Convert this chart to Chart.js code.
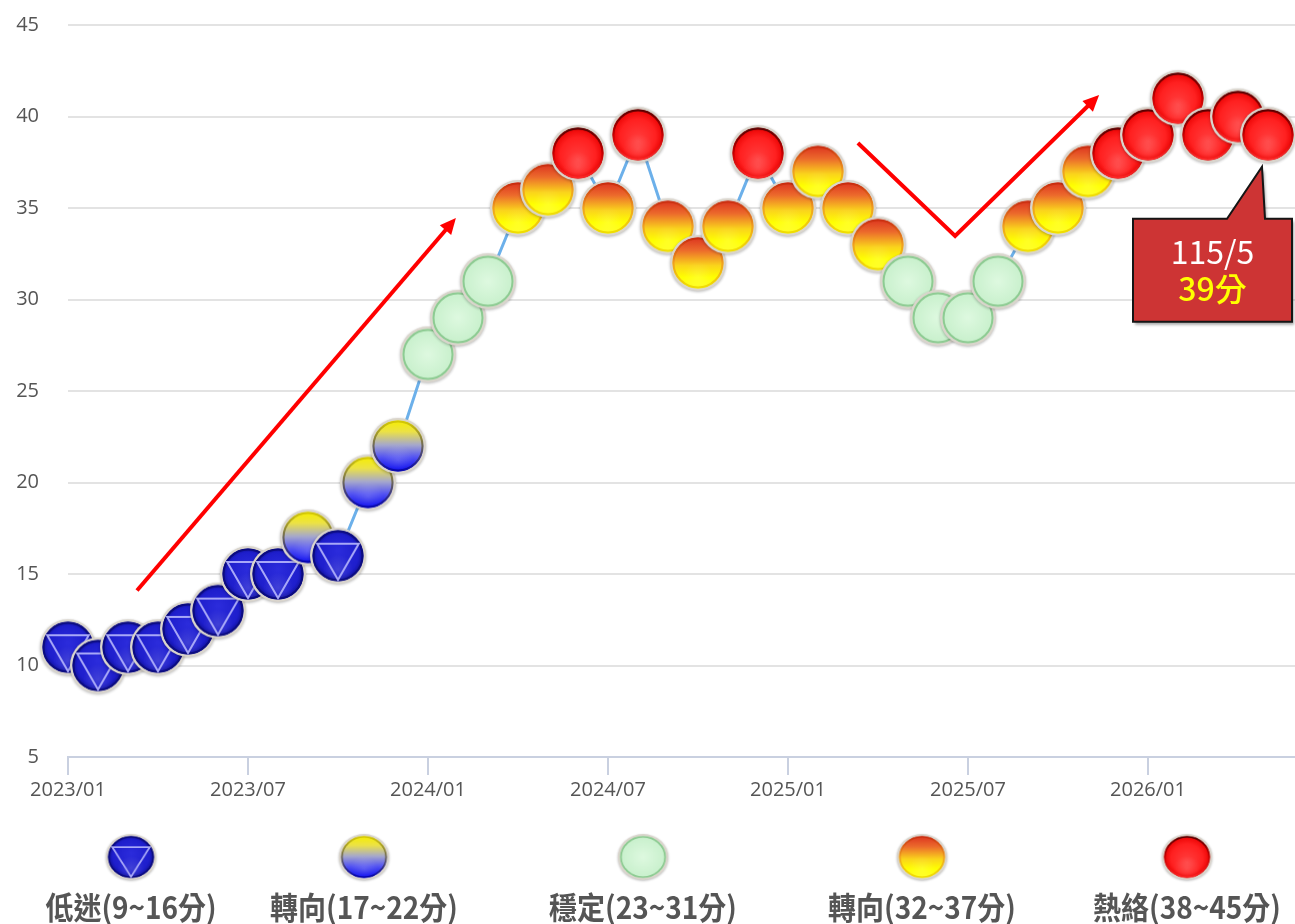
<!DOCTYPE html>
<html>
<head>
<meta charset="utf-8">
<script src="https://cdn.jsdelivr.net/npm/chart.js@4/dist/chart.umd.min.js"></script>
<style>
  html, body { margin: 0; padding: 0; background: #ffffff; }
  #wrap { width: 1295px; height: 924px; position: relative; overflow: hidden; }
</style>
</head>
<body>
<div id="wrap"><canvas id="chart" width="1295" height="924"></canvas></div>
<script>
// Monthly score series
const months = [
  '2023/01','2023/02','2023/03','2023/04','2023/05','2023/06','2023/07','2023/08','2023/09','2023/10','2023/11','2023/12',
  '2024/01','2024/02','2024/03','2024/04','2024/05','2024/06','2024/07','2024/08','2024/09','2024/10','2024/11','2024/12',
  '2025/01','2025/02','2025/03','2025/04','2025/05','2025/06','2025/07','2025/08','2025/09','2025/10','2025/11','2025/12',
  '2026/01','2026/02','2026/03','2026/04','2026/05'
];
const scores = [
  11, 10, 11, 11, 12, 13, 15, 15, 17, 16, 20, 22,
  27, 29, 31, 35, 36, 38, 35, 39, 34, 32, 34, 38,
  35, 37, 35, 33, 31, 29, 29, 31, 34, 35, 37, 38,
  39, 41, 39, 40, 39
];

// Axis labels
const xTickLabels = ['2023/01', '2023/07', '2024/01', '2024/07', '2025/01', '2025/07', '2026/01'];
const yTicks = [5, 10, 15, 20, 25, 30, 35, 40, 45];

// Score bands (signal lights)
const bandNames = ['低迷', '轉向', '穩定', '轉向', '熱絡'];
const bandMin = [9, 17, 23, 32, 38];
const bandMax = [16, 22, 31, 37, 45];
const bandKinds = ['low', 'turnLow', 'stable', 'turnHigh', 'hot'];

// Trend arrows, in (month index, score) units
const trendUp1 = [[2.3, 14.1], [12.93, 34.45]];
const trendV = [[26.33, 38.55], [29.57, 33.47], [34.37, 41.17]];

const FONT = '"Open Sans", "Noto Sans", sans-serif';
const CJK = '"Noto Sans CJK TC", "Noto Sans", sans-serif';

function bandOf(v) {
  for (let i = 0; i < bandMax.length; i++) if (v <= bandMax[i]) return i;
  return bandMax.length - 1;
}

// Glossy signal-light marker drawn on an offscreen canvas
function makeIcon(kind, R) {
  const pad = 5;
  const size = 2 * R + 2 * pad;
  const c = document.createElement('canvas');
  c.width = size; c.height = size;
  const g = c.getContext('2d');
  const cx = size / 2, cy = size / 2;
  const TAU = Math.PI * 2;

  // pale outer rim with a soft shadow
  g.save();
  g.shadowColor = 'rgba(0,0,0,0.28)';
  g.shadowBlur = 3;
  g.shadowOffsetY = 1;
  g.beginPath(); g.arc(cx, cy, R, 0, TAU);
  g.fillStyle = '#dad5cc';
  g.fill();
  g.restore();

  const r = R - 2.5;
  let fill;
  if (kind === 'low') {
    fill = g.createRadialGradient(cx, cy - r * 0.2, 0, cx, cy, r);
    fill.addColorStop(0, '#2c2cdc');
    fill.addColorStop(0.8, '#1e1ecc');
    fill.addColorStop(1, '#10109a');
  } else if (kind === 'turnLow') {
    fill = g.createLinearGradient(0, cy - r, 0, cy + r);
    fill.addColorStop(0, '#f6ee00');
    fill.addColorStop(0.22, '#ece246');
    fill.addColorStop(0.48, '#a6a8cc');
    fill.addColorStop(0.72, '#5454f2');
    fill.addColorStop(1, '#0000ee');
  } else if (kind === 'stable') {
    fill = g.createRadialGradient(cx, cy, 0, cx, cy, r);
    fill.addColorStop(0, '#def9e0');
    fill.addColorStop(1, '#c8f0cc');
  } else if (kind === 'turnHigh') {
    fill = g.createLinearGradient(0, cy - r, 0, cy + r);
    fill.addColorStop(0, '#dc3420');
    fill.addColorStop(0.25, '#ec6a2c');
    fill.addColorStop(0.55, '#fad41c');
    fill.addColorStop(0.78, '#ffff00');
    fill.addColorStop(1, '#ffff20');
  } else {
    fill = g.createRadialGradient(cx, cy + r * 0.25, 0, cx, cy, r);
    fill.addColorStop(0, '#ff4040');
    fill.addColorStop(0.7, '#ff2020');
    fill.addColorStop(0.92, '#f00a0a');
    fill.addColorStop(1, '#b00000');
  }
  g.beginPath(); g.arc(cx, cy, r, 0, TAU);
  g.fillStyle = fill;
  g.fill();

  // inner rim tint
  let rim = null;
  if (kind === 'stable') rim = '#8dcb92';
  if (kind === 'turnHigh') {
    rim = g.createLinearGradient(0, cy - r, 0, cy + r);
    rim.addColorStop(0, '#c8280e'); rim.addColorStop(0.5, '#f0a020'); rim.addColorStop(1, '#f0e000');
  }
  if (kind === 'hot') {
    rim = g.createLinearGradient(0, cy - r, 0, cy + r);
    rim.addColorStop(0, '#520000'); rim.addColorStop(0.5, '#c80000'); rim.addColorStop(1, '#ff2a2a');
  }
  if (kind === 'low') rim = '#0c0c80';
  if (kind === 'turnLow') {
    rim = g.createLinearGradient(0, cy - r, 0, cy + r);
    rim.addColorStop(0, '#d8cc00'); rim.addColorStop(1, '#0000b0');
  }
  if (rim) {
    g.beginPath(); g.arc(cx, cy, r - 1, 0, TAU);
    g.strokeStyle = rim; g.lineWidth = 2; g.stroke();
  }

  // soft lower sheen
  if (kind !== 'stable') {
    const sh = g.createRadialGradient(cx, cy + r * 0.55, 0, cx, cy + r * 0.55, r * 0.6);
    sh.addColorStop(0, 'rgba(255,255,255,0.14)');
    sh.addColorStop(1, 'rgba(255,255,255,0)');
    g.beginPath(); g.arc(cx, cy, r - 2, 0, TAU);
    g.fillStyle = sh; g.fill();
  }

  // inverted triangle inside the low marker
  if (kind === 'low') {
    const tr = r - 1.5;
    const ang = [Math.PI * 7 / 6, Math.PI * 11 / 6, Math.PI / 2];
    g.beginPath();
    ang.forEach((a, i) => {
      const x = cx + tr * Math.cos(a), y = cy + tr * Math.sin(a);
      if (i === 0) g.moveTo(x, y); else g.lineTo(x, y);
    });
    g.closePath();
    g.strokeStyle = '#a8a8f8';
    g.lineWidth = 2;
    g.stroke();
  }
  return c;
}

const pointIcons = {};
bandKinds.forEach(k => { pointIcons[k] = makeIcon(k, 28); });

const points = scores.map((v, i) => ({ x: i, y: v }));
const xTickIndex = xTickLabels.map(l => months.indexOf(l));

function drawArrowPath(ctx, chart, pts) {
  const xs = chart.scales.x, ys = chart.scales.y;
  const p = pts.map(([a, b]) => [xs.getPixelForValue(a), ys.getPixelForValue(b)]);
  ctx.save();
  ctx.strokeStyle = '#ff0000';
  ctx.fillStyle = '#ff0000';
  ctx.lineWidth = 4;
  ctx.lineJoin = 'miter';
  ctx.lineCap = 'butt';
  const n = p.length;
  const [ex, ey] = p[n - 1];
  const [sx, sy] = p[n - 2];
  const ang = Math.atan2(ey - sy, ex - sx);
  const hl = 16, hw = 7.5;
  ctx.beginPath();
  ctx.moveTo(p[0][0], p[0][1]);
  for (let i = 1; i < n - 1; i++) ctx.lineTo(p[i][0], p[i][1]);
  ctx.lineTo(ex - Math.cos(ang) * hl * 0.8, ey - Math.sin(ang) * hl * 0.8);
  ctx.stroke();
  const bx = ex - Math.cos(ang) * hl, by = ey - Math.sin(ang) * hl;
  ctx.beginPath();
  ctx.moveTo(ex, ey);
  ctx.lineTo(bx + Math.sin(ang) * hw, by - Math.cos(ang) * hw);
  ctx.lineTo(bx - Math.sin(ang) * hw, by + Math.cos(ang) * hw);
  ctx.closePath();
  ctx.fill();
  ctx.restore();
}

const overlay = {
  id: 'overlay',
  afterDatasetsDraw(chart) {
    const ctx = chart.ctx;
    drawArrowPath(ctx, chart, trendUp1);
    drawArrowPath(ctx, chart, trendV);

    // callout for the latest month
    const last = scores.length - 1;
    const el = chart.getDatasetMeta(0).data[last];
    const px = el.x, py = el.y;
    const left = px - 135, right = px + 24, top = py + 84, bottom = py + 187;
    ctx.save();
    ctx.beginPath();
    ctx.moveTo(left, top);
    ctx.lineTo(px - 41, top);
    ctx.lineTo(px - 6, py + 32);
    ctx.lineTo(px - 3, top);
    ctx.lineTo(right, top);
    ctx.lineTo(right, bottom);
    ctx.lineTo(left, bottom);
    ctx.closePath();
    ctx.shadowColor = 'rgba(0,0,0,0.35)';
    ctx.shadowBlur = 3;
    ctx.shadowOffsetX = 2;
    ctx.shadowOffsetY = 3;
    ctx.fillStyle = '#cd3434';
    ctx.fill();
    ctx.shadowColor = 'transparent';
    ctx.strokeStyle = '#151515';
    ctx.lineWidth = 2;
    ctx.lineJoin = 'miter';
    ctx.stroke();

    const [yy, mm] = months[last].split('/');
    const rocLabel = (parseInt(yy, 10) - 1911) + '/' + parseInt(mm, 10);
    const cx = (left + right) / 2;
    ctx.textAlign = 'center';
    ctx.textBaseline = 'middle';
    ctx.font = '32px ' + CJK;
    ctx.fillStyle = '#ffffff';
    ctx.fillText(rocLabel, cx, py + 117);
    ctx.font = '500 32px ' + CJK;
    ctx.fillStyle = '#ffff00';
    ctx.fillText(scores[last] + '分', cx, py + 154);
    ctx.restore();
  },
  afterDraw(chart) {
    // legend of signal bands
    const ctx = chart.ctx;
    const centers = [131, 364, 643, 922, 1187];
    ctx.save();
    bandKinds.forEach((k, i) => {
      const img = pointIcons[k];
      const w = img.width * 0.9, h = img.height * 0.82;
      ctx.drawImage(img, centers[i] - w / 2, 857 - h / 2, w, h);
      ctx.save();
      ctx.translate(centers[i], 907);
      ctx.scale(1, 1.1);
      ctx.font = 'bold 28px ' + CJK;
      ctx.fillStyle = '#555555';
      ctx.textAlign = 'center';
      ctx.textBaseline = 'middle';
      ctx.fillText(bandNames[i] + '(' + bandMin[i] + '~' + bandMax[i] + '分)', 0, 0);
      ctx.restore();
    });
    ctx.restore();
  }
};

Chart.defaults.font.family = FONT;

new Chart(document.getElementById('chart'), {
  type: 'line',
  data: {
    datasets: [{
      data: points,
      borderColor: '#6cb0ea',
      borderWidth: 3,
      tension: 0,
      clip: false,
      pointStyle: ctx => pointIcons[bandKinds[bandOf(ctx.raw.y)]],
      pointRadius: 28,
      pointHoverRadius: 28
    }]
  },
  options: {
    responsive: false,
    animation: false,
    events: [],
    layout: { autoPadding: false, padding: { top: 25, right: 0, left: 0, bottom: 0 } },
    plugins: { legend: { display: false }, tooltip: { enabled: false } },
    scales: {
      x: {
        type: 'linear',
        min: 0,
        max: 40.9,
        afterBuildTicks: s => { s.ticks = xTickIndex.map(v => ({ value: v })); },
        afterFit: s => { s.height = 167; s.paddingLeft = 0; s.paddingRight = 0; },
        grid: { drawOnChartArea: false, drawTicks: true, tickLength: 18, color: '#c9d0e0', lineWidth: 2 },
        border: { display: true, color: '#c9d0e0', width: 2 },
        ticks: {
          autoSkip: false,
          maxRotation: 0,
          padding: 3,
          color: '#555555',
          font: { size: 20 },
          callback: v => months[v]
        }
      },
      y: {
        min: 5,
        max: 45,
        afterBuildTicks: s => { s.ticks = yTicks.map(v => ({ value: v })); },
        afterFit: s => { s.width = 68; s.paddingTop = 0; s.paddingBottom = 0; },
        grid: { color: '#e3e3e3', lineWidth: 2, drawTicks: false },
        border: { display: false },
        ticks: { padding: 29, color: '#555555', font: { size: 20 } }
      }
    }
  },
  plugins: [overlay]
});
</script>
</body>
</html>
